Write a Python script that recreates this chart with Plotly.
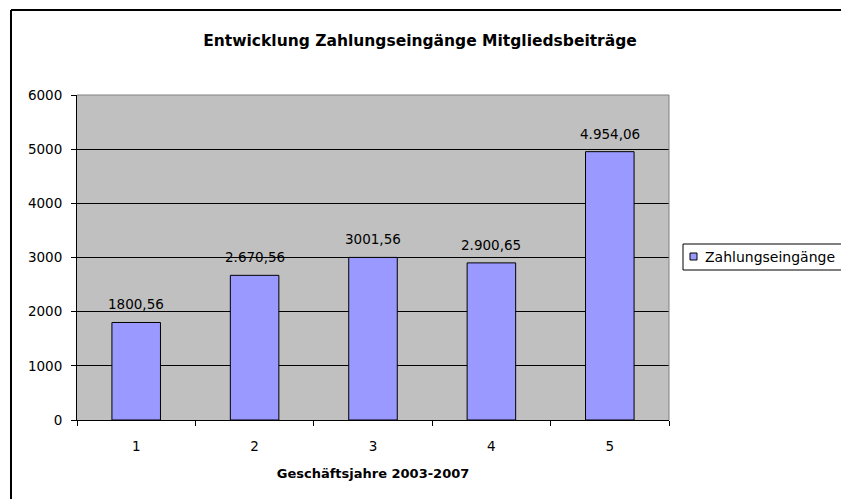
import plotly.graph_objects as go

categories = ["1", "2", "3", "4", "5"]
values = [1800.56, 2670.56, 3001.56, 2900.65, 4954.06]
value_labels = ["1800,56", "2.670,56", "3001,56", "2.900,65", "4.954,06"]
y_ticks = [0, 1000, 2000, 3000, 4000, 5000, 6000]
series_name = "Zahlungseingänge"
title_text = "Entwicklung Zahlungseingänge Mitgliedsbeiträge"
x_title = "Geschäftsjahre 2003-2007"

FONT = "DejaVu Sans, Liberation Sans, Arial, sans-serif"
BAR_COLOR = "#9999FF"

W, H = 841, 499
L, R, T, B = 77, 172, 95, 79
pw, ph = W - L - R, H - T - B


def px2x(px):
    return (px - L) / pw


def py2y(py):
    return (H - B - py) / ph


fig = go.Figure()
fig.add_trace(go.Bar(
    x=categories, y=values, name=series_name,
    marker=dict(color=BAR_COLOR, line=dict(color="black", width=1)),
    showlegend=False,
))

# value labels above bars (category index positions on the category axis)
for i, (v, t) in enumerate(zip(values, value_labels)):
    fig.add_annotation(x=i, y=v, xref="x", yref="y", text=t, showarrow=False,
                       yanchor="bottom", xanchor="center", yshift=8,
                       font=dict(family=FONT, size=13.5, color="black"))

fig.update_layout(
    width=W, height=H,
    margin=dict(l=L, r=R, t=T, b=B, autoexpand=False),
    paper_bgcolor="white", plot_bgcolor="#C0C0C0",
    font=dict(family=FONT, size=13.5, color="black"),
    bargap=0.59,
    showlegend=False,
    title=dict(text="<b>" + title_text + "</b>", x=420 / W, xref="container", xanchor="center",
               y=1 - 41 / H, yref="container", yanchor="middle",
               font=dict(family=FONT, size=15.5, color="black")),
    xaxis=dict(type="category", range=[-0.5, len(categories) - 0.5],
               showgrid=False, showline=True, linecolor="black", linewidth=1,
               ticks="outside", tickson="boundaries", ticklen=5, tickcolor="black",
               ticklabelstandoff=14,
               tickfont=dict(family=FONT, size=13.5),
               title=dict(text="<b>" + x_title + "</b>", font=dict(family=FONT, size=13), standoff=15)),
    yaxis=dict(range=[0, 6000], tickvals=y_ticks, showgrid=True, gridcolor="black", gridwidth=1,
               showline=True, linecolor="black", linewidth=1, ticks="outside", ticklen=5,
               ticklabelstandoff=6,
               tickcolor="black", tickfont=dict(family=FONT, size=13.5), zeroline=False),
)

# plot-area gray border on top and right
fig.add_shape(type="line", xref="paper", yref="paper", x0=0, x1=1, y0=1, y1=1,
              line=dict(color="#808080", width=1))
fig.add_shape(type="line", xref="paper", yref="paper", x0=1, x1=1, y0=0, y1=1,
              line=dict(color="#808080", width=1))

# outer chart border (top and left visible, rest cropped)
fig.add_shape(type="line", xref="paper", yref="paper", x0=px2x(11), x1=px2x(860),
              y0=py2y(10), y1=py2y(10), line=dict(color="black", width=2))
fig.add_shape(type="line", xref="paper", yref="paper", x0=px2x(11), x1=px2x(11),
              y0=py2y(10), y1=py2y(520), line=dict(color="black", width=2))

# legend (box runs off the right edge as in the original)
fig.add_shape(type="rect", xref="paper", yref="paper", x0=px2x(683), x1=px2x(870),
              y0=py2y(270), y1=py2y(244), line=dict(color="black", width=1),
              fillcolor="white")
fig.add_shape(type="rect", xref="paper", yref="paper", x0=px2x(690), x1=px2x(697),
              y0=py2y(260), y1=py2y(253), line=dict(color="black", width=1),
              fillcolor=BAR_COLOR)
fig.add_annotation(xref="paper", yref="paper", x=px2x(703), y=py2y(257), text=series_name,
                   showarrow=False, xanchor="left", yanchor="middle",
                   font=dict(family=FONT, size=14, color="black"))

fig.write_html("out.html", config={"displayModeBar": False},
               post_script="document.body.style.margin='0';")
